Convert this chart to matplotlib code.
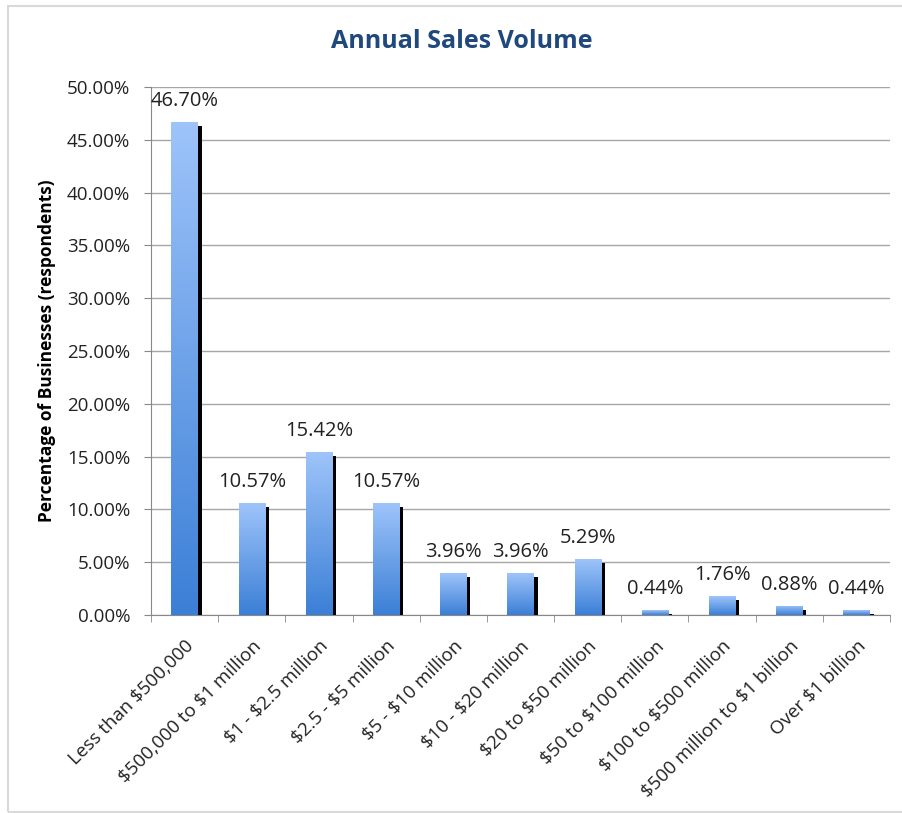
import matplotlib.pyplot as plt
import matplotlib.transforms as mtransforms
from matplotlib.colors import LinearSegmentedColormap
from matplotlib.patches import Rectangle
import numpy as np

categories = ['Less than $500,000', '$500,000 to $1 million', '$1 - $2.5 million',
              '$2.5 - $5 million', '$5 - $10 million', '$10 - $20 million',
              '$20 to $50 million', '$50 to $100 million', '$100 to $500 million',
              '$500 million to $1 billion', 'Over $1 billion']
values = [46.70, 10.57, 15.42, 10.57, 3.96, 3.96, 5.29, 0.44, 1.76, 0.88, 0.44]
yticks = [0, 5, 10, 15, 20, 25, 30, 35, 40, 45, 50]

plt.rcParams['font.family'] = ['Open Sans', 'DejaVu Sans']
plt.rcParams['text.parse_math'] = False

fig = plt.figure(figsize=(9.02, 8.13), dpi=100)
ax = fig.add_axes([151 / 902, 1 - 615 / 813, (890 - 151) / 902, (615 - 87) / 813])

# chart border
fig.patches.append(Rectangle((8 / 902, 1 - 812 / 813), 1, 806 / 813, transform=fig.transFigure,
                             fill=False, edgecolor='#d9d9d9', linewidth=1.5))

x = np.arange(len(categories))
w = 0.39

# black shadow offset right/down
shadow = ax.transData + mtransforms.ScaledTranslation(0.04, -0.04, fig.dpi_scale_trans)
ax.bar(x, values, width=w, color='black', zorder=2, transform=shadow)

bars = ax.bar(x, values, width=w, color='none', zorder=3)
cmap = LinearSegmentedColormap.from_list('g', ['#3b7fd6', '#9ec4fa'])
grad = np.linspace(0, 1, 256).reshape(-1, 1)
for b in bars:
    bx, by = b.get_x(), b.get_y()
    im = ax.imshow(grad, cmap=cmap, origin='lower', aspect='auto', zorder=3,
                   extent=[bx, bx + b.get_width(), by, by + b.get_height()])
    im.set_clip_path(b)

for xi, v in zip(x, values):
    ax.annotate(f'{v:.2f}%', (xi, v), xytext=(0, 8), textcoords='offset points',
                ha='center', va='bottom', fontsize=14.5, color='#222222')

ax.set_xlim(-0.5, len(categories) - 0.5)
ax.set_ylim(0, 50)
ax.set_yticks(yticks)
ax.set_yticklabels([f'{t:.2f}%' for t in yticks], fontsize=13.5, color='#222222')
ax.yaxis.grid(True, color='#a6a6a6', linewidth=1)
ax.set_axisbelow(True)

ax.set_xticks(x)
ax.set_xticklabels(categories, rotation=45, ha='right', rotation_mode='anchor',
                   fontsize=13.5, color='#222222')
ax.set_xticks(np.arange(-0.5, len(categories)), minor=True)
ax.tick_params(axis='x', which='major', length=0, pad=16)
ax.tick_params(axis='x', which='minor', length=5, color='#888888')
ax.tick_params(axis='y', length=5, color='#888888', pad=10)

for s in ['top', 'right']:
    ax.spines[s].set_visible(False)
for s in ['left', 'bottom']:
    ax.spines[s].set_color('#888888')

ax.set_ylabel('Percentage of Businesses (respondents)', fontsize=12.5, fontweight='bold', labelpad=8)
fig.text(462 / 902, 1 - 42 / 813, 'Annual Sales Volume', ha='center', va='center',
         fontsize=18, fontweight='bold', color='#1f497d')

fig.savefig('out.png', dpi=100)
